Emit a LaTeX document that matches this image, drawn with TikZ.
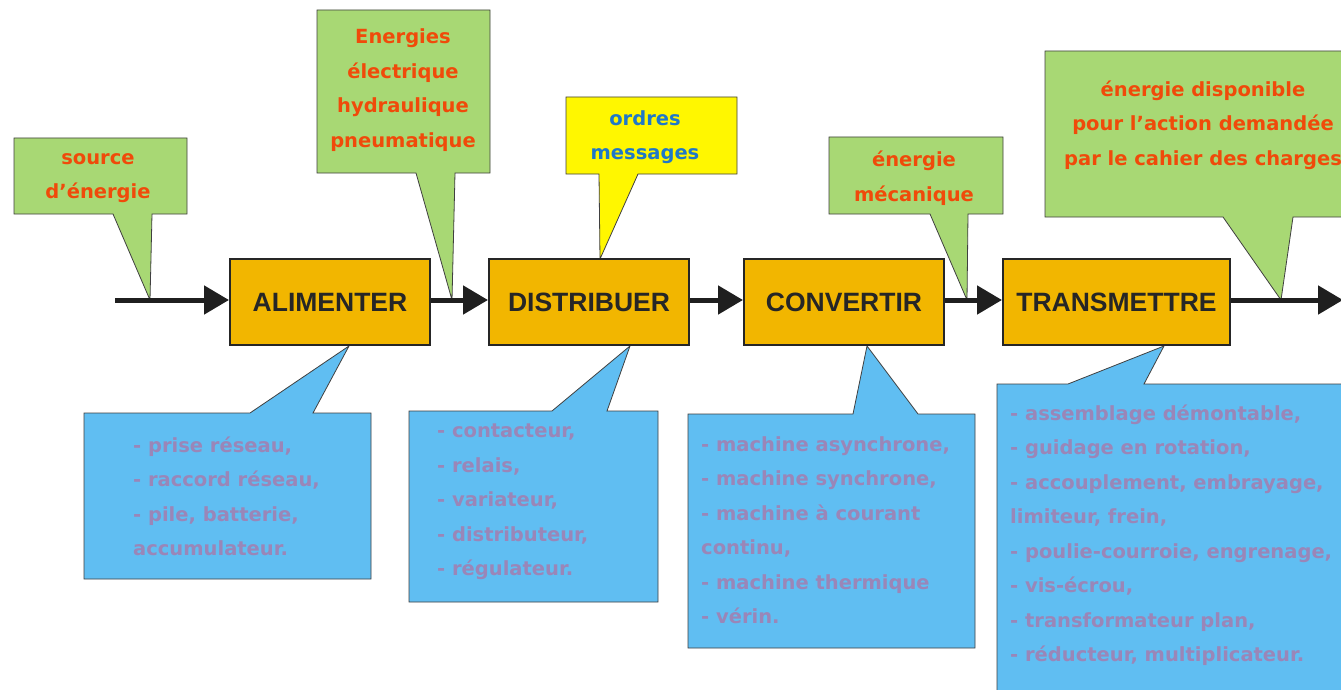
\documentclass[tikz,border=0pt]{standalone}
\usepackage{fontspec}
\setmainfont{DejaVu Sans}
\newfontfamily\titlefont{Liberation Sans}
\usetikzlibrary{arrows.meta}
\definecolor{boxor}{HTML}{F2B600}
\definecolor{grn}{HTML}{A8D874}
\definecolor{yel}{HTML}{FFF700}
\definecolor{blu}{HTML}{60BEF2}
\definecolor{redtxt}{HTML}{F04A0A}
\definecolor{bluetxt}{HTML}{1F78C8}
\definecolor{purtxt}{HTML}{9A86B8}
\begin{document}
\begin{tikzpicture}[x=1pt,y=-1pt,
  func/.style={draw=black!85, line width=2pt, fill=boxor, minimum width=200pt, minimum height=86pt, inner sep=0pt,
     font=\titlefont\bfseries\fontsize{26.5}{26.5}\selectfont, text=black!85},
  flow/.style={line width=5pt, draw=black!88, -{Triangle[length=25pt,width=28pt]}},
  callout/.style={draw=black!75, line width=0.8pt, line join=miter},
  gtext/.style={font=\bfseries\fontsize{19.5}{34.5}\selectfont, text=redtxt, align=center, inner sep=0pt},
  btext/.style={font=\bfseries\fontsize{19.5}{34.5}\selectfont, text=purtxt, align=left, inner sep=0pt, anchor=west}]
\clip (0,0) rectangle (1341,690);
\fill[white] (0,0) rectangle (1341,690);
% tips on the flow line
\coordinate (t1) at (150,300);
\coordinate (t2) at (452,300);
\coordinate (t3) at (600,259);
\coordinate (t4) at (967,300);
\coordinate (t5) at (1281,300);
\coordinate (b1) at (349,346);
\coordinate (b2) at (630,346);
\coordinate (b3) at (867,346);
\coordinate (b4) at (1164,346);
% top callouts
\draw[callout, fill=grn] (14,138) -- (187,138) -- (187,214) -- (152,214) -- (t1) -- (113,214) -- (14,214) -- cycle;
\draw[callout, fill=grn] (317,10) -- (490,10) -- (490,173) -- (455,173) -- (t2) -- (416,173) -- (317,173) -- cycle;
\draw[callout, fill=yel] (566,97) -- (737,97) -- (737,174) -- (638,174) -- (t3) -- (599,174) -- (566,174) -- cycle;
\draw[callout, fill=grn] (829,137) -- (1003,137) -- (1003,214) -- (968,214) -- (t4) -- (930,214) -- (829,214) -- cycle;
\draw[callout, fill=grn] (1045,51) -- (1360,51) -- (1360,217) -- (1293,217) -- (t5) -- (1223,217) -- (1045,217) -- cycle;
% bottom callouts
\draw[callout, fill=blu] (84,413) -- (250,413) -- (b1) -- (313,413) -- (371,413) -- (371,579) -- (84,579) -- cycle;
\draw[callout, fill=blu] (409,411) -- (552,411) -- (b2) -- (607,411) -- (658,411) -- (658,602) -- (409,602) -- cycle;
\draw[callout, fill=blu] (688,414) -- (853,414) -- (b3) -- (918,414) -- (975,414) -- (975,648) -- (688,648) -- cycle;
\draw[callout, fill=blu] (997,384) -- (1068,384) -- (b4) -- (1144,384) -- (1360,384) -- (1360,700) -- (997,700) -- cycle;
% texts
\node[gtext] (g1) at (98,178) {source\\d’énergie};
\node[gtext] (g2) at (403,90) {Energies\\électrique\\hydraulique\\pneumatique};
\node[gtext, text=bluetxt] (g3) at (645,137) {ordres\\messages};
\node[gtext] (g4) at (914,178) {énergie\\mécanique};
\node[gtext] (g5) at (1203,125) {énergie disponible\\pour l’action demandée\\par le cahier des charges};
\node[btext] (l1) at (133,496.5) {- prise réseau,\\- raccord réseau,\\- pile, batterie,\\accumulateur.};
\node[btext] (l2) at (437,502) {- contacteur,\\- relais,\\- variateur,\\- distributeur,\\- régulateur.};
\node[btext] (l3) at (701,530) {- machine asynchrone,\\- machine synchrone,\\- machine à courant\\continu,\\- machine thermique\\- vérin.};
\node[btext] (l4) at (1010,535) {- assemblage démontable,\\- guidage en rotation,\\- accouplement, embrayage,\\limiteur, frein,\\- poulie-courroie, engrenage,\\- vis-écrou,\\- transformateur plan,\\- réducteur, multiplicateur.};
% function boxes
\coordinate (start) at (115,300);
\coordinate (end) at (1343,300);
\node[func] (alim) at (330,302) {ALIMENTER};
\node[func] (dist) at (589,302) {DISTRIBUER};
\node[func] (conv) at (844,302) {CONVERTIR};
\node[func, minimum width=227pt] (trans) at (1116.5,302) {TRANSMETTRE};
\draw[flow] (start) -- (alim.west |- start);
\draw[flow] (alim.east |- start) -- (dist.west |- start);
\draw[flow] (dist.east |- start) -- (conv.west |- start);
\draw[flow] (conv.east |- start) -- (trans.west |- start);
\draw[flow] (trans.east |- start) -- (end);
\end{tikzpicture}
\end{document}
